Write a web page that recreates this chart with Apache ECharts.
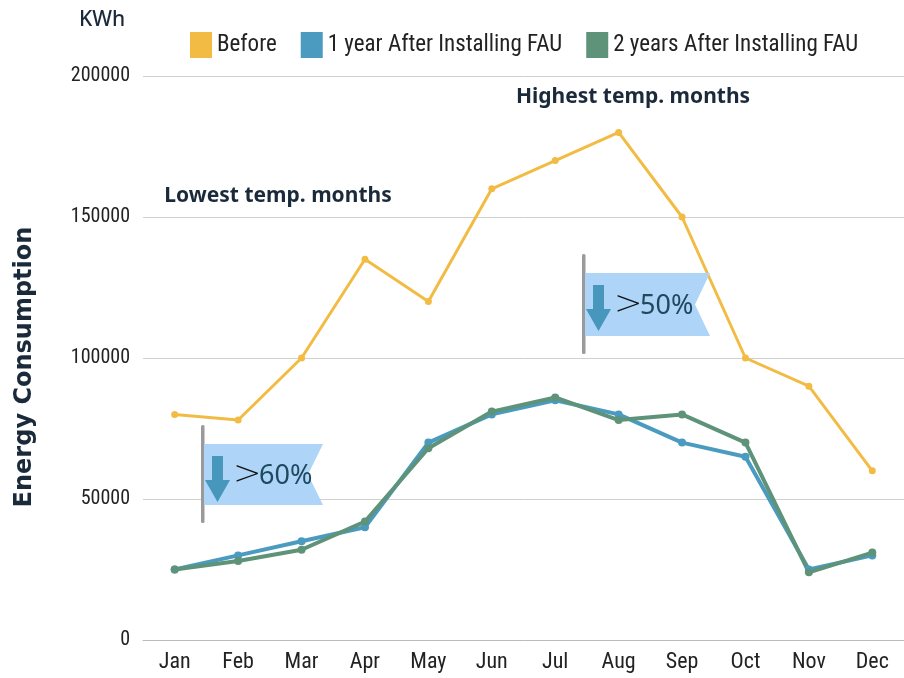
<!DOCTYPE html>
<html><head><meta charset="utf-8">
<script src="https://cdn.jsdelivr.net/npm/echarts@6/dist/echarts.min.js"></script>
<style>html,body{margin:0;padding:0;background:#fff}#c{width:904px;height:678px}</style>
</head><body><div id="c"></div>
<script>
const months = ['Jan','Feb','Mar','Apr','May','Jun','Jul','Aug','Sep','Oct','Nov','Dec'];
const seriesNames = ['Before','1 year After Installing FAU','2 years After Installing FAU'];
const before = [80000,78000,100000,135000,120000,160000,170000,180000,150000,100000,90000,60000];
const year1 = [25000,30000,35000,40000,70000,80000,85000,80000,70000,65000,25000,30000];
const year2 = [25000,28000,32000,42000,68000,81000,86000,78000,80000,70000,24000,31000];
const colors = ['#F2BC44','#4A9BBF','#5E937A'];
const narrow = '"Liberation Sans Narrow","Roboto Condensed",Roboto,sans-serif';
const dark = '#1B2A3A';

function flag(x, y, w, h, notch, pct){
  return [
    {type:'rect', shape:{x:x-3, y:y-19, width:3.5, height:h+37, r:1.5}, style:{fill:'#9A9A9A'}, z:10},
    {type:'polygon', shape:{points:[[x,y],[x+w,y],[x+w-notch,y+h/2],[x+w,y+h],[x,y+h]]}, style:{fill:'#AED4F7'}, z:10},
    {type:'polygon', shape:{points:[[x+8,y+12],[x+19,y+12],[x+19,y+36],[x+26,y+36],[x+13.5,y+58],[x+1,y+36],[x+8,y+36]]}, style:{fill:'#4797BD'}, z:11},
    {type:'text', x:x+29, y:y+h/2+1, style:{text:'>', font:'300 34px "DejaVu Sans",sans-serif', fill:'#111', textVerticalAlign:'middle'}, z:11},
    {type:'text', x:x+55, y:y+h/2+2, style:{text:pct, font:'27px "Noto Sans",sans-serif', fill:'#1E4A60', textVerticalAlign:'middle'}, z:11}
  ];
}

const chart = echarts.init(document.getElementById('c'));
chart.setOption({
  animation:false,
  color: colors,
  grid:{left:143, right:-9, top:76, bottom:38, containLabel:false},
  legend:{
    left:185, top:27, itemWidth:22, itemHeight:26, itemGap:24,
    icon:'rect',
    data: seriesNames,
    textStyle:{fontFamily:narrow, fontSize:23, color:'#222'}
  },
  xAxis:{
    type:'category', data:months, boundaryGap:true,
    axisLine:{show:true, lineStyle:{color:'#bbb', width:1}},
    axisTick:{show:false},
    axisLabel:{fontFamily:narrow, fontSize:22, color:'#222', margin:11}
  },
  yAxis:{
    type:'value', min:0, max:200000, interval:50000,
    axisLine:{show:false}, axisTick:{show:false},
    splitLine:{lineStyle:{color:'#d0d0d0', width:1}},
    axisLabel:{fontFamily:narrow, fontSize:20, color:'#222', margin:13, formatter: v => String(v)}
  },
  series:[
    {name:seriesNames[0], type:'line', data:before, symbol:'circle', symbolSize:7, lineStyle:{width:3, color:colors[0]}, itemStyle:{color:colors[0]}},
    {name:seriesNames[1], type:'line', data:year1, symbol:'circle', symbolSize:8, lineStyle:{width:4, color:colors[1]}, itemStyle:{color:colors[1]}},
    {name:seriesNames[2], type:'line', data:year2, symbol:'circle', symbolSize:8, lineStyle:{width:4, color:colors[2]}, itemStyle:{color:colors[2]}}
  ],
  graphic:[
    {type:'text', x:102, y:20, style:{text:'KWh', font:'500 21px "Noto Sans",sans-serif', fill:dark, textAlign:'center', textVerticalAlign:'middle'}},
    {type:'text', x:25, y:367, rotation:Math.PI/2, style:{text:'Energy Consumption', font:'bold 24px "DejaVu Sans",sans-serif', fill:dark, textAlign:'center', textVerticalAlign:'middle'}},
    {type:'text', x:278, y:196, style:{text:'Lowest temp. months', font:'bold 21px "Noto Sans",sans-serif', fill:dark, textAlign:'center', textVerticalAlign:'middle'}},
    {type:'text', x:633, y:97, style:{text:'Highest temp. months', font:'bold 21px "Noto Sans",sans-serif', fill:dark, textAlign:'center', textVerticalAlign:'middle'}},
    ...flag(204, 444, 119, 61, 15, '60%'),
    ...flag(585, 273, 125, 63, 15, '50%')
  ]
});
</script></body></html>
